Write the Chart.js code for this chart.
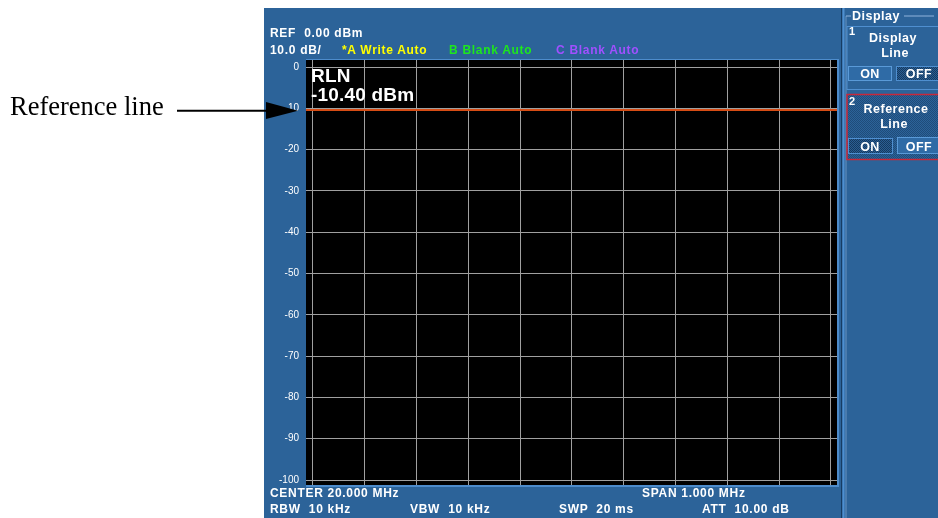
<!DOCTYPE html>
<html>
<head>
<meta charset="utf-8">
<script src="https://cdn.jsdelivr.net/npm/chart.js@4.4.1/dist/chart.umd.min.js"></script>
<style>
  html,body{margin:0;padding:0;background:#fff;}
  #wrap{position:relative;width:938px;height:518px;overflow:hidden;}
  #bg,#fg,#c{position:absolute;left:0;top:0;}
  .t{font-family:'Liberation Sans',Arial,sans-serif;font-weight:bold;fill:#fff;white-space:pre;letter-spacing:0.7px;font-size:12px;}
  .p{letter-spacing:0.5px;font-size:12.5px;}
</style>
</head>
<body>
<div id="wrap">
<svg id="bg" width="938" height="518" xmlns="http://www.w3.org/2000/svg">
  <defs>
    <pattern id="dith" width="2" height="2" patternUnits="userSpaceOnUse">
      <rect width="2" height="2" fill="#2a5e93"/>
      <rect width="1" height="1" fill="#163a60"/>
      <rect x="1" y="1" width="1" height="1" fill="#163a60"/>
    </pattern>
    <pattern id="dith2" width="2" height="2" patternUnits="userSpaceOnUse">
      <rect width="2" height="2" fill="#2c6399"/>
      <rect width="1" height="1" fill="#1f4c7a"/>
      <rect x="1" y="1" width="1" height="1" fill="#1f4c7a"/>
    </pattern>
  </defs>
  <rect x="0" y="0" width="938" height="518" fill="#fff"/>
  <rect x="264" y="8" width="674" height="510" fill="#2c6399"/>
  <rect x="841" y="8" width="1" height="510" fill="#173c63"/>
  <rect x="842.5" y="8" width="2" height="510" fill="#4f8fd0"/>
  <!-- group box -->
  <path d="M846 16 H851 M904 16 H934" stroke="#8fb4dc" stroke-width="1"/>
  <path d="M846 16 V518" stroke="#8fb4dc" stroke-width="1" opacity="0.6"/>
  <!-- section 1 -->
  <rect x="847" y="26.5" width="95" height="63" fill="#2c6399" stroke="#4f8fd0" stroke-width="1"/>
  <rect x="848.5" y="66.5" width="43" height="14" fill="#2f6ba6" stroke="#5a9ad8" stroke-width="1"/>
  <rect x="896.5" y="66.5" width="45" height="14" fill="url(#dith)" stroke="#4f8fd0" stroke-width="1"/>
  <!-- section 2 -->
  <rect x="847" y="94.5" width="95" height="65" fill="url(#dith2)" stroke="#c8283a" stroke-width="1.5"/>
  <rect x="848.5" y="138.5" width="44" height="15" fill="url(#dith)" stroke="#4f8fd0" stroke-width="1"/>
  <rect x="897.5" y="137.5" width="44" height="16" fill="#2f6ba6" stroke="#5a9ad8" stroke-width="1"/>
</svg>
<canvas id="c" width="938" height="518"></canvas>
<svg id="fg" width="938" height="518" xmlns="http://www.w3.org/2000/svg" xml:space="preserve">
  <text x="10" y="115" font-family="'Liberation Serif','Times New Roman',serif" font-size="26.5" fill="#000">Reference line</text>
  <line x1="177" y1="110.7" x2="270" y2="110.7" stroke="#000" stroke-width="2"/>
  <polygon points="266,102 298,110.7 266,119" fill="#000"/>

  <text class="t" x="270" y="37">REF  0.00 dBm</text>
  <text class="t" x="270" y="53.5">10.0 dB/</text>
  <text class="t" x="342" y="53.5" style="fill:#ffff00">*A Write Auto</text>
  <text class="t" x="449" y="53.5" style="fill:#1ee61e">B Blank Auto</text>
  <text class="t" x="556" y="53.5" style="fill:#a050ff">C Blank Auto</text>

  <text class="t" x="311" y="82" style="font-size:19px;letter-spacing:0.2px">RLN</text>
  <text class="t" x="311" y="101" style="font-size:19px;letter-spacing:0.2px">-10.40 dBm</text>

  <text class="t" x="270" y="497">CENTER 20.000 MHz</text>
  <text class="t" x="642" y="497">SPAN 1.000 MHz</text>
  <text class="t" x="270" y="513">RBW  10 kHz</text>
  <text class="t" x="410" y="513">VBW  10 kHz</text>
  <text class="t" x="559" y="513">SWP  20 ms</text>
  <text class="t" x="702" y="513">ATT  10.00 dB</text>

  <text class="t p" x="852" y="19.5">Display</text>
  <text class="t" x="849" y="35" style="font-size:11px">1</text>
  <text class="t p" x="893" y="42" text-anchor="middle">Display</text>
  <text class="t p" x="895" y="57" text-anchor="middle">Line</text>
  <text class="t p" x="870" y="78" text-anchor="middle">ON</text>
  <text class="t p" x="919" y="78" text-anchor="middle">OFF</text>
  <text class="t" x="849" y="105" style="font-size:11px">2</text>
  <text class="t p" x="896" y="113" text-anchor="middle">Reference</text>
  <text class="t p" x="894" y="128" text-anchor="middle">Line</text>
  <text class="t p" x="870" y="151" text-anchor="middle">ON</text>
  <text class="t p" x="919" y="151" text-anchor="middle">OFF</text>
</svg>
</div>
<script>
// ---- data ----
const xTickMHz = [19.5, 19.6, 19.7, 19.8, 19.9, 20.0, 20.1, 20.2, 20.3, 20.4, 20.5];
const yTickDb = [0, -10, -20, -30, -40, -50, -60, -70, -80, -90, -100];
const refLineDbm = -10.40;

// axis bounds (small margin around the graticule)
const xMin = 19.5 - 0.0135, xMax = 20.5 + 0.0116;
const yMin = -101.2, yMax = 1.7;

const plotBg = {
  id: 'plotBg',
  beforeDraw(chart) {
    const {ctx, chartArea: a} = chart;
    ctx.save();
    ctx.fillStyle = '#4d8ccc';
    ctx.fillRect(a.left, a.top - 1, a.right - a.left + 2, a.bottom - a.top + 3);
    ctx.fillStyle = '#000';
    ctx.fillRect(a.left, a.top, a.right - a.left, a.bottom - a.top);
    ctx.restore();
  }
};

new Chart(document.getElementById('c'), {
  type: 'line',
  data: {
    datasets: [{
      data: [{x: xMin, y: refLineDbm}, {x: xMax, y: refLineDbm}],
      borderColor: '#d64c14',
      borderWidth: 2,
      pointRadius: 0,
      fill: false
    }]
  },
  options: {
    responsive: false,
    animation: false,
    devicePixelRatio: 1,
    layout: {padding: {left: 264, right: 101, top: 60, bottom: 33}},
    plugins: {legend: {display: false}, tooltip: {enabled: false}},
    scales: {
      x: {
        type: 'linear', min: xMin, max: xMax,
        afterBuildTicks: s => { s.ticks = xTickMHz.map(v => ({value: v})); },
        afterFit: s => { s.height = 0; },
        ticks: {display: false},
        grid: {color: '#a0a0a0', lineWidth: 1, drawTicks: false},
        border: {display: false}
      },
      y: {
        type: 'linear', min: yMin, max: yMax,
        afterBuildTicks: s => { s.ticks = yTickDb.map(v => ({value: v})); },
        afterFit: s => { s.width = 42; },
        ticks: {color: '#fff', padding: 7, font: {family: "'Liberation Sans Narrow','Liberation Sans',Arial", size: 10}},
        grid: {color: '#a0a0a0', lineWidth: 1, drawTicks: false},
        border: {display: false}
      }
    }
  },
  plugins: [plotBg]
});
</script>
</body>
</html>
